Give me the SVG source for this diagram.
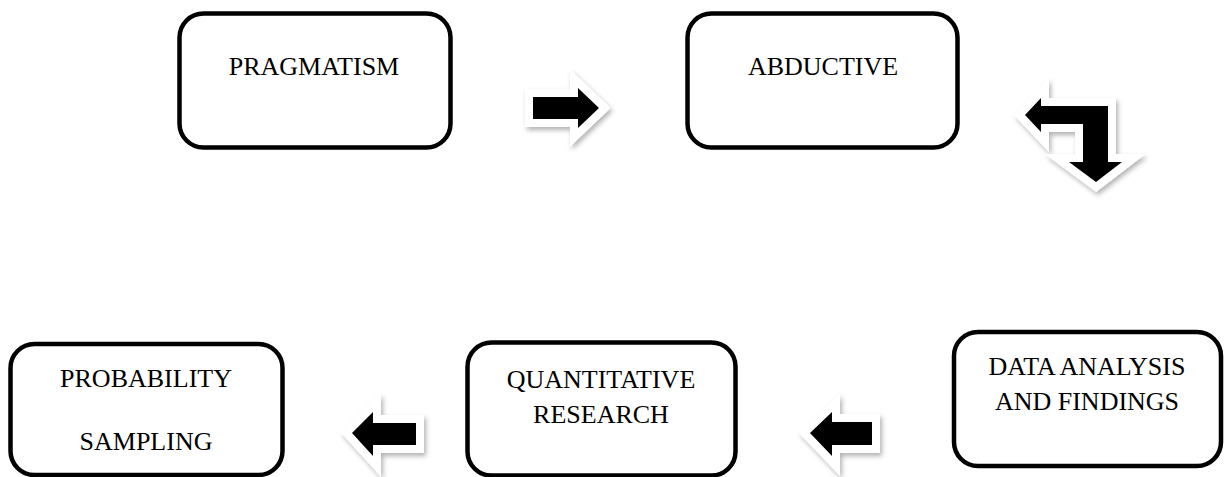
<svg xmlns="http://www.w3.org/2000/svg" width="1225" height="477" viewBox="0 0 1225 477">
<style>
.box{fill:#fff;stroke:#000;stroke-width:4.5}
.lbl{font-family:"Liberation Serif","Times New Roman",serif;font-size:26px;fill:#000;text-anchor:middle}
.arr{fill:#000;stroke:#fff;stroke-width:16;stroke-linejoin:miter;stroke-miterlimit:10;paint-order:stroke}
</style>
<defs>
<filter id="sh" x="-30%" y="-30%" width="160%" height="160%">
<feDropShadow dx="2" dy="3" stdDeviation="2.5" flood-color="#000" flood-opacity="0.3"/>
</filter>
</defs>
<g id="n-pragmatism">
<rect class="box" x="179.5" y="13.5" width="271" height="134" rx="24"/>
<text class="lbl" x="314" y="75">PRAGMATISM</text>
</g>
<g id="n-abductive">
<rect class="box" x="687.5" y="13.5" width="270" height="134" rx="24"/>
<text class="lbl" x="823" y="75">ABDUCTIVE</text>
</g>
<g id="n-data">
<rect class="box" x="954" y="332" width="267" height="134" rx="24"/>
<text class="lbl" x="1087" y="375">DATA ANALYSIS</text>
<text class="lbl" x="1087" y="410">AND FINDINGS</text>
</g>
<g id="n-quant">
<rect class="box" x="467.5" y="342.5" width="268" height="133" rx="24"/>
<text class="lbl" x="601" y="388">QUANTITATIVE</text>
<text class="lbl" x="601" y="423">RESEARCH</text>
</g>
<g id="n-prob">
<rect class="box" x="10.5" y="344" width="272" height="131" rx="24"/>
<text class="lbl" x="146" y="387">PROBABILITY</text>
<text class="lbl" x="146" y="450">SAMPLING</text>
</g>
<g id="connectors" filter="url(#sh)">
<path class="arr" d="M533,97 L578,97 L578,88 L599,108 L578,128 L578,119 L533,119 Z"/>
<path class="arr" d="M1025,115 L1041,98 L1041,106 L1108,106 L1108,162 L1122,162 L1096,182 L1069,162 L1083,162 L1083,124 L1041,124 L1041,132 Z"/>
<path class="arr" d="M872,422 L832,422 L832,412 L810,433 L832,456 L832,445 L872,445 Z"/>
<path class="arr" d="M416,423 L373,423 L373,412 L352,433 L373,456 L373,445 L416,445 Z"/>
</g>
</svg>
